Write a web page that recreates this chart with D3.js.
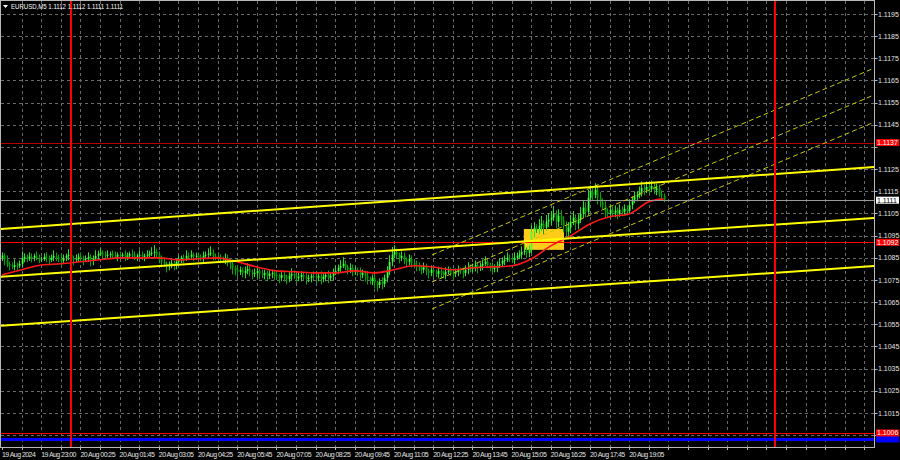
<!DOCTYPE html>
<html><head><meta charset="utf-8">
<script src="https://cdn.jsdelivr.net/npm/d3@7"></script>
<style>html,body{margin:0;padding:0;background:#000;overflow:hidden}</style>
</head><body><svg id="c" width="900" height="460"></svg>
<script>
// ---------------- DATA ----------------
const symbolTitle = "EURUSD,M5";
const titleOHLC = ["1.1112", "1.1112", "1.1111", "1.1111"];
const firstOpen = 1.10850;
const closes = [
 1.10860,1.10841,1.10823,1.10814,1.10809,1.10818,1.10814,1.10823,1.10850,1.10855,1.10846,1.10855,1.10850,1.10859,1.10850,1.10846,
 1.10846,1.10855,1.10850,1.10841,1.10850,1.10859,1.10855,1.10846,1.10837,1.10850,1.10859,1.10864,1.10850,1.10841,1.10846,1.10855,
 1.10850,1.10841,1.10846,1.10855,1.10837,1.10846,1.10859,1.10868,1.10873,1.10864,1.10859,1.10864,1.10868,1.10859,1.10855,1.10864,
 1.10859,1.10864,1.10855,1.10859,1.10868,1.10864,1.10855,1.10859,1.10864,1.10855,1.10859,1.10864,1.10868,1.10873,1.10877,1.10864,
 1.10850,1.10832,1.10823,1.10814,1.10818,1.10827,1.10818,1.10832,1.10841,1.10850,1.10846,1.10859,1.10855,1.10864,1.10855,1.10859,
 1.10855,1.10850,1.10859,1.10864,1.10868,1.10873,1.10859,1.10855,1.10850,1.10846,1.10841,1.10850,1.10837,1.10823,1.10805,1.10796,
 1.10787,1.10796,1.10782,1.10791,1.10800,1.10787,1.10778,1.10782,1.10791,1.10778,1.10773,1.10782,1.10769,1.10778,1.10782,1.10773,
 1.10769,1.10760,1.10773,1.10764,1.10755,1.10769,1.10778,1.10769,1.10760,1.10764,1.10773,1.10764,1.10755,1.10760,1.10769,1.10764,
 1.10760,1.10769,1.10755,1.10764,1.10773,1.10760,1.10769,1.10782,1.10791,1.10805,1.10814,1.10823,1.10809,1.10796,1.10805,1.10787,
 1.10796,1.10787,1.10773,1.10782,1.10769,1.10755,1.10746,1.10760,1.10737,1.10728,1.10742,1.10733,1.10760,1.10787,1.10832,1.10864,
 1.10877,1.10864,1.10850,1.10859,1.10841,1.10832,1.10846,1.10827,1.10818,1.10814,1.10805,1.10796,1.10809,1.10791,1.10782,1.10796,
 1.10787,1.10778,1.10791,1.10782,1.10773,1.10787,1.10796,1.10782,1.10778,1.10787,1.10796,1.10791,1.10782,1.10796,1.10805,1.10800,
 1.10809,1.10818,1.10805,1.10814,1.10823,1.10832,1.10818,1.10809,1.10800,1.10805,1.10814,1.10823,1.10837,1.10841,1.10850,1.10846,
 1.10841,1.10850,1.10859,1.10864,1.10877,1.10882,1.10873,1.10886,1.10968,1.10986,1.10977,1.10995,1.11004,1.10986,1.11013,1.11022,
 1.11031,1.11049,1.11013,1.11040,1.11022,1.10995,1.10968,1.10986,1.11013,1.11031,1.11004,1.11022,1.11049,1.11076,1.11058,1.11121,
 1.11147,1.11134,1.11157,1.11121,1.11103,1.11085,1.11058,1.11049,1.11067,1.11053,1.11062,1.11049,1.11067,1.11058,1.11071,1.11062,
 1.11089,1.11112,1.11125,1.11134,1.11147,1.11165,1.11157,1.11170,1.11161,1.11174,1.11157,1.11165,1.11139,1.11130,1.11110
];
// wick lengths above / below the body, in pips
const wickUp = [
 1.5,1,2,1,1.5,2.5,1,1.5,3,1.5,1,2,1.5,1,2,1.5,
 1,1.5,2,1,1.5,2.5,1.5,1,2,1.5,1,2.5,1.5,1,2,1.5,
 2,1,1.5,2,1,1.5,2.5,1.5,2,1,1.5,2,1,1.5,2,1,
 1.5,1,2,1.5,1,2,1.5,1,2,1.5,1,2,1.5,2.5,3,1.5,
 1.5,1,2,1,1.5,2,1,1.5,2,1,1.5,2.5,1.5,2,1,1.5,
 1.5,1,2,1.5,2.5,3,1.5,1,2,1.5,1,2,1.5,1,2,1,
 2,1.5,1,2,2.5,1.5,1,2,1.5,1,2,1.5,1,2,1.5,1,
 1.5,1,2,1.5,1,2,2.5,1.5,1,2,1.5,1,2,1.5,1,2,
 1.5,1,2,1.5,1,2,1.5,2,2.5,1.5,2.5,3,1.5,1,2,1.5,
 1.5,1,2,1.5,1,2,1,1.5,2,1,1.5,2,1.5,2.5,3,3.5,
 3,1.5,1,2,1.5,1,2,1.5,1,2,1.5,1,2,1.5,1,2,
 1.5,1,2,1.5,1,2,1.5,1,2,1.5,2,1,1.5,2,2.5,1.5,
 1.5,2,1,1.5,2,2.5,1.5,1,2,1.5,2,2.5,1.5,2,2.5,1.5,
 1.5,2.5,1.5,2,2.5,3,1.5,2,3,2.5,1.5,3,3.5,1.5,3,3,
 3,3.5,1.5,3,2.5,1.5,2,2.5,3,3,1.5,2.5,3,3,2.5,3.5,
 3,2.5,3,1.5,2.5,1.5,2,1.5,2.5,1.5,2.5,1.5,2.5,1.5,2,1.5,
 2.5,1.5,2.5,1.5,2.5,3,1.5,2.5,1.5,2.5,1.5,2,1.5,1.5,1
];
const wickDn = [
 1.5,2.5,1.5,2,1,1.5,2,1,1.5,2,1.5,1,2,1.5,1,2,
 1.5,1,2,2.5,1,1.5,2,1.5,2.5,1,1.5,2,1.5,2.5,1,1.5,
 2,2.5,1,1.5,2.5,2,1,1.5,1,2,1.5,1,2,1.5,1,2,
 1.5,1,2,1.5,1,2,1.5,2,1,1.5,2,1,1.5,1,2,1.5,
 2.5,2.5,1.5,3,2,1.5,2.5,2,1,1.5,2,1,1.5,1,2,1.5,
 1,1.5,2,1,1.5,1,2,1.5,1,2,1.5,2,2.5,2.5,3,2.5,
 2.5,1.5,2,2.5,1.5,2,2.5,1.5,2,2.5,1.5,2,2.5,1.5,2,2.5,
 1.5,2.5,1.5,2,2.5,1.5,2,1.5,2.5,1.5,2,1.5,2.5,1.5,2,1.5,
 2.5,1.5,2.5,1.5,2,2.5,1.5,2,1,1.5,2,1,1.5,2,1.5,2,
 1.5,2,2.5,1.5,2.5,2.5,1.5,2,2.5,3,1.5,2.5,1.5,2,1.5,2,
 1.5,2,2.5,1.5,2,2.5,1.5,2,1.5,2.5,1.5,2,1.5,2,2.5,1.5,
 2.5,1.5,2,2.5,1.5,2,1,1.5,2.5,1.5,2,1.5,2.5,1.5,2,1.5,
 1.5,2,2.5,1.5,2,1,1.5,2,2.5,1.5,2,1,1.5,2,1,1.5,
 1.5,2,1,1.5,2,1.5,2.5,2,1.5,2.5,1.5,2,2.5,3,1.5,2.5,
 2.5,1.5,3,2.5,2.5,3,3.5,3,2.5,1.5,3,2.5,1.5,2,2.5,1.5,
 1.5,2.5,1.5,3,2.5,1.5,2.5,1.5,2,1.5,2,2.5,1.5,2,1.5,2,
 1.5,2,1.5,2,1.5,2,2.5,1.5,2,1.5,2,2.5,1.5,1.5,1
];
// moving average readings (bar index, value)
const maBars = [0,8,16,24,32,40,48,56,64,72,80,88,96,104,112,120,128,136,144,152,160,168,176,184,192,200,208,216,224,232,240,248,256,264,270];
const maValues = [1.10773,1.10796,1.10818,1.10823,1.10832,1.10841,1.10850,1.10850,1.10850,1.10841,1.10846,1.10850,1.10832,1.10809,1.10791,1.10787,1.10782,1.10782,1.10791,1.10782,1.10796,1.10814,1.10809,1.10796,1.10805,1.10809,1.10814,1.10845,1.10904,1.10949,1.11003,1.11035,1.11048,1.11103,1.11116];

const timeLabels = ["19 Aug 2024","19 Aug 23:00","20 Aug 00:25","20 Aug 01:45","20 Aug 03:05","20 Aug 04:25","20 Aug 05:45","20 Aug 07:05","20 Aug 08:25","20 Aug 09:45","20 Aug 11:05","20 Aug 12:25","20 Aug 13:45","20 Aug 15:05","20 Aug 16:25","20 Aug 17:45","20 Aug 19:05"];
const timeLabelBars = [0,16,32,48,64,80,96,112,128,144,160,176,192,208,224,240,256];
const priceTicks = [1.1005,1.1015,1.1025,1.1035,1.1045,1.1055,1.1065,1.1075,1.1085,1.1095,1.1105,1.1115,1.1125,1.1135,1.1145,1.1155,1.1165,1.1175,1.1185,1.1195];

const levelPrices = [1.1137, 1.1092, 1.1006];   // red horizontal levels
const bluePrice = 1.1003;
const currentPrice = 1.1111;
const separatorBars = [28, 315.5];              // day separators
const trendBars = [-1, 356];
const trendUpper = [1.10980, 1.11260];
const trendMiddle = [1.10764, 1.11030];
const trendLower = [1.10543, 1.10813];
const channelBars = [175.5, 356];
const channelUpper = [1.10863, 1.11706];
const channelMiddle = [1.10741, 1.11585];
const channelLower = [1.10619, 1.11462];
const boxBars = [213, 229.4];
const boxPrices = [1.10886, 1.10980];

// ---------------- DRAW ----------------
const L = 1, R = 874, T = 1, B = 447;
const svg = d3.select("#c");
const FONT = "'Liberation Sans',Arial,sans-serif";
const x = d3.scaleLinear().domain([0, 356]).range([2, 2 + 356 * 2.45]);
const y = d3.scaleLinear().domain([1.1015, 1.1195]).range([413, 14]);

svg.append("rect").attr("width", 900).attr("height", 460).attr("fill", "#000");
svg.append("defs").append("clipPath").attr("id", "clip")
  .append("rect").attr("x", L).attr("y", T).attr("width", R - L).attr("height", B - T);
const plot = svg.append("g").attr("clip-path", "url(#clip)");

// grid
const gridCol = "#6a6a6a";
const vGrid = d3.range(8, 356, 8);
plot.selectAll(".vg").data(vGrid).join("line")
  .attr("x1", d => Math.round(x(d)) + 0.5).attr("x2", d => Math.round(x(d)) + 0.5)
  .attr("y1", T).attr("y2", B).attr("stroke", gridCol).attr("stroke-dasharray", "3,3");
plot.selectAll(".hg").data(priceTicks).join("line")
  .attr("x1", L).attr("x2", R)
  .attr("y1", d => Math.round(y(d)) + 0.5).attr("y2", d => Math.round(y(d)) + 0.5)
  .attr("stroke", gridCol).attr("stroke-dasharray", "3,3");

// box
plot.append("rect")
  .attr("x", x(boxBars[0])).attr("width", x(boxBars[1]) - x(boxBars[0]))
  .attr("y", y(boxPrices[1])).attr("height", y(boxPrices[0]) - y(boxPrices[1]))
  .attr("fill", "#ffcc1a");

// candles
const candles = closes.map((c, i) => {
  const o = i === 0 ? firstOpen : closes[i - 1];
  return { i, o, c, h: Math.max(o, c) + wickUp[i] / 10000, l: Math.min(o, c) - wickDn[i] / 10000 };
});
const cg = plot.append("g");
cg.selectAll(".wk").data(candles).join("line")
  .attr("x1", d => Math.round(x(d.i)) + 0.5).attr("x2", d => Math.round(x(d.i)) + 0.5)
  .attr("y1", d => y(d.h)).attr("y2", d => y(d.l))
  .attr("stroke", d => d.c >= d.o ? "#22e022" : "#00a800").attr("stroke-width", 1);
cg.selectAll(".bd").data(candles).join("rect")
  .attr("x", d => Math.round(x(d.i)) - 0.3).attr("width", 1.8)
  .attr("y", d => y(Math.max(d.o, d.c))).attr("height", d => Math.max(1, Math.abs(y(d.o) - y(d.c))))
  .attr("fill", d => d.c >= d.o ? "#44ff44" : "#00a000");

// moving average
plot.append("path")
  .attr("d", d3.line().x((d, k) => x(maBars[k])).y(d => y(d)).curve(d3.curveMonotoneX)(maValues))
  .attr("fill", "none").attr("stroke", "#ff1a1a").attr("stroke-width", 1.6);

// horizontal levels
const levelColors = ["#b40000", "#ff0000", "#ff0000"];
plot.selectAll(".lv").data(levelPrices).join("line")
  .attr("x1", L).attr("x2", R)
  .attr("y1", d => Math.round(y(d)) + 0.5).attr("y2", d => Math.round(y(d)) + 0.5)
  .attr("stroke", (d, k) => levelColors[k]).attr("stroke-width", 1);
plot.append("line").attr("x1", L).attr("x2", R)
  .attr("y1", y(bluePrice)).attr("y2", y(bluePrice))
  .attr("stroke", "#0000ff").attr("stroke-width", 3);
plot.append("line").attr("x1", L).attr("x2", R)
  .attr("y1", Math.round(y(currentPrice)) + 0.5).attr("y2", Math.round(y(currentPrice)) + 0.5)
  .attr("stroke", "#9a9a9a").attr("stroke-width", 1);

// channel (dashed)
[channelUpper, channelMiddle, channelLower].forEach(p => {
  plot.append("line")
    .attr("x1", x(channelBars[0])).attr("y1", y(p[0]))
    .attr("x2", x(channelBars[1])).attr("y2", y(p[1]))
    .attr("stroke", "#c8c800").attr("stroke-width", 1).attr("stroke-dasharray", "5,3");
});
// trend lines (solid)
[trendUpper, trendMiddle, trendLower].forEach(p => {
  plot.append("line")
    .attr("x1", x(trendBars[0])).attr("y1", y(p[0]))
    .attr("x2", x(trendBars[1])).attr("y2", y(p[1]))
    .attr("stroke", "#ffff00").attr("stroke-width", 2);
});

// day separators
plot.selectAll(".sep").data(separatorBars).join("line")
  .attr("x1", d => Math.round(x(d))).attr("x2", d => Math.round(x(d)))
  .attr("y1", T).attr("y2", B).attr("stroke", "#ff0000").attr("stroke-width", 2);

// frame
svg.append("rect").attr("x", L - 0.5).attr("y", T - 0.5).attr("width", R - L + 1).attr("height", B - T + 1)
  .attr("fill", "none").attr("stroke", "#b8b8b8").attr("stroke-width", 1);

// right axis
const axisText = "#e0e0e0";
svg.selectAll(".rt").data(priceTicks).join("line")
  .attr("x1", R + 0.5).attr("x2", R + 3.5)
  .attr("y1", d => Math.round(y(d)) + 0.5).attr("y2", d => Math.round(y(d)) + 0.5)
  .attr("stroke", "#b8b8b8");
// tick labels (almost) hidden behind a level marker are not drawn
const markerPrices = levelPrices.concat([bluePrice, currentPrice]);
const shownTicks = priceTicks.filter(p => markerPrices.every(m => Math.abs(y(p) - y(m)) >= 5));
svg.selectAll(".rl").data(shownTicks).join("text")
  .attr("x", R + 4).attr("y", d => y(d) + 2.5)
  .attr("fill", axisText).attr("font-family", FONT).attr("font-size", "7px")
  .text(d => d.toFixed(4));

// bottom axis
svg.selectAll(".bt").data(vGrid.concat([0])).join("line")
  .attr("x1", d => Math.round(x(d)) + 0.5).attr("x2", d => Math.round(x(d)) + 0.5)
  .attr("y1", B + 0.5).attr("y2", B + 3)
  .attr("stroke", "#b8b8b8");
svg.selectAll(".bl").data(timeLabels).join("text")
  .attr("x", (d, k) => x(timeLabelBars[k])).attr("y", 456.5)
  .attr("fill", axisText).attr("font-family", FONT).attr("font-size", "7px")
  .attr("letter-spacing", "-0.55px")
  .text(d => d);

// price markers on axis
function marker(price, bg, fg, label) {
  const yy = y(price);
  svg.append("rect").attr("x", R + 2).attr("y", yy - 3.5).attr("width", 23).attr("height", 7).attr("fill", bg);
  if (label) {
    svg.append("text").attr("x", R + 3).attr("y", yy + 2.5).attr("fill", fg)
      .attr("font-family", FONT).attr("font-size", "7px").text(label);
  }
}
marker(bluePrice + 0.00003, "#0000ff", "#ffffff", null); // label hidden under the red marker
levelPrices.forEach(p => marker(p, "#ff0000", "#ffffff", p.toFixed(4)));
marker(currentPrice, "#ffffff", "#000000", currentPrice.toFixed(4));

// title
svg.append("path").attr("d", "M3,5 L8,5 L5.5,8 Z").attr("fill", "#ffffff");
svg.append("text").attr("x", 11).attr("y", 9).attr("fill", "#ffffff")
  .attr("font-family", FONT).attr("font-size", "7.5px")
  .attr("textLength", 112).attr("lengthAdjust", "spacingAndGlyphs")
  .text(symbolTitle + "  " + titleOHLC.join(" "));
</script>
</body></html>
